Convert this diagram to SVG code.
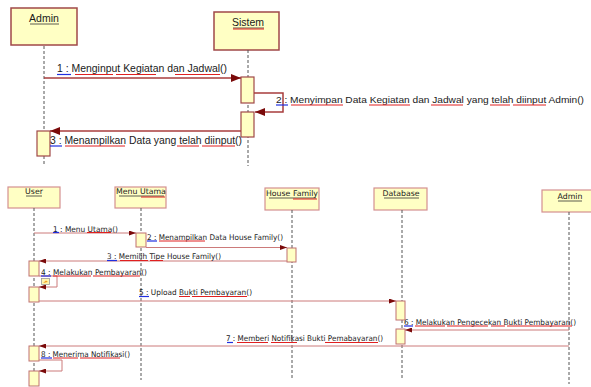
<svg xmlns="http://www.w3.org/2000/svg" width="591" height="387" viewBox="0 0 591 387">
<style>
.hd{fill:#FFFFC4;stroke:#A04848;stroke-width:1.5}
.hd2{fill:#FFFFC4;stroke:#D49090;stroke-width:1.2}
.act{fill:#FFFFC4;stroke:#A04848;stroke-width:1.2}
.act2{fill:#FFFFC4;stroke:#C07070;stroke-width:1}
.life{stroke:#555;stroke-width:1;stroke-dasharray:3 2;fill:none}
.m1{stroke:#A83C3C;stroke-width:1.5;fill:none}
.m2{stroke:#CC7A7A;stroke-width:1;fill:none}
.t{font-family:"DejaVu Sans","Liberation Sans",sans-serif;fill:#1a1a1a}
.tl{font-family:"Liberation Sans","DejaVu Sans",sans-serif;font-size:10.5px}
.ts{font-size:7.8px}
.ul{stroke:#333;stroke-width:0.8}
.ur{stroke:#E02020;stroke-width:1}
.ub{stroke:#2030E0;stroke-width:1.2}
</style>
<defs>
<marker id="ah1" markerWidth="10" markerHeight="8" refX="10" refY="4" orient="auto" markerUnits="userSpaceOnUse"><path d="M0,0 L10,4 L0,8 z" fill="#7A0A0A"/></marker>
<marker id="ah2" markerWidth="7" markerHeight="5" refX="7" refY="2.5" orient="auto" markerUnits="userSpaceOnUse"><path d="M0,0 L7,2.5 L0,5 z" fill="#7A0A0A"/></marker>
</defs>

<!-- TOP DIAGRAM -->
<g id="top-admin">
<rect class="hd" x="11" y="8" width="66" height="37"/>
<text class="t tl" x="44" y="22" text-anchor="middle">Admin</text>
<line class="ul" x1="30" y1="24" x2="59" y2="24"/>
<line class="life" x1="44" y1="46" x2="44" y2="166"/>
<rect class="act" x="37" y="131" width="13" height="25"/>
</g>
<g id="top-sistem">
<rect class="hd" x="214" y="12" width="65" height="38"/>
<text class="t tl" x="248" y="26" text-anchor="middle">Sistem</text>
<line class="ul" x1="233" y1="28" x2="264" y2="28"/>
<line class="ur" x1="233" y1="29" x2="264" y2="29"/>
<line class="life" x1="248" y1="50" x2="248" y2="166"/>
<rect class="act" x="241" y="77" width="13" height="26"/>
<rect class="act" x="241" y="112" width="13" height="25"/>
</g>

<!-- BOTTOM DIAGRAM -->
<g id="user">
<rect class="hd2" x="8" y="187" width="52" height="21"/>
<text class="t ts" x="34" y="194" text-anchor="middle">User</text>
<line class="ul" x1="26" y1="196" x2="42" y2="196"/>
<line class="life" x1="34" y1="208" x2="34" y2="387"/>
<rect class="act2" x="29" y="261" width="10" height="15"/>
<rect class="act2" x="29" y="287" width="10" height="15"/>
<rect class="act2" x="29" y="346" width="10" height="15"/>
<rect class="act2" x="29" y="371" width="10" height="15"/>
<rect x="41.5" y="278.5" width="8" height="6" fill="#FFF6B0" stroke="#999" stroke-width="0.8"/>
<path d="M43,283 L46,280.5 L48,282 z" fill="#F0A020"/>
</g>
<g id="menu-utama">
<rect class="hd2" x="115" y="187" width="51" height="21"/>
<text class="t ts" x="141" y="194" text-anchor="middle">Menu Utama</text>
<line class="ul" x1="119" y1="196" x2="164" y2="196"/>
<line class="ur" x1="141" y1="197" x2="165" y2="197"/>
<line class="life" x1="141" y1="208" x2="141" y2="380"/>
<rect class="act2" x="136" y="233" width="10" height="14"/>
</g>
<g id="house-family">
<rect class="hd2" x="265" y="188" width="54" height="22"/>
<text class="t ts" x="292" y="196" text-anchor="middle">House Family</text>
<line class="ul" x1="269" y1="198" x2="316" y2="198"/>
<line class="ur" x1="293" y1="199" x2="317" y2="199"/>
<line class="life" x1="292" y1="210" x2="292" y2="380"/>
<rect class="act2" x="287" y="248" width="9" height="14"/>
</g>
<g id="database">
<rect class="hd2" x="374" y="188" width="53" height="22"/>
<text class="t ts" x="401" y="196" text-anchor="middle">Database</text>
<line class="ul" x1="384" y1="198" x2="419" y2="198"/>
<line class="life" x1="402" y1="210" x2="402" y2="380"/>
<rect class="act2" x="396" y="301" width="9" height="19"/>
<rect class="act2" x="396" y="329" width="9" height="15"/>
</g>
<g id="admin">
<rect class="hd2" x="542" y="190" width="52" height="22"/>
<text class="t ts" x="570" y="199" text-anchor="middle">Admin</text>
<line class="ul" x1="558" y1="201" x2="582" y2="201"/>
<line class="life" x1="569" y1="212" x2="569" y2="384"/>
</g>

<g id="connectors">
<line class="m1" x1="44" y1="78" x2="241" y2="78" marker-end="url(#ah1)"/>
<polyline class="m1" points="254,93 283,93 283,112 255,112" marker-end="url(#ah1)"/>
<line class="m1" x1="241" y1="131" x2="50" y2="131" marker-end="url(#ah1)"/>

<line class="m2" x1="34" y1="233" x2="136" y2="233" marker-end="url(#ah2)"/>
<line class="m2" x1="146" y1="247.5" x2="287" y2="247.5" marker-end="url(#ah2)"/>
<line class="m2" x1="287" y1="261" x2="39" y2="261" marker-end="url(#ah2)"/>
<polyline class="m2" points="39,276 57,276 57,287 39,287" marker-end="url(#ah2)"/>
<line class="m2" x1="39" y1="301" x2="396" y2="301" marker-end="url(#ah2)"/>
<line class="m2" x1="569" y1="330" x2="405" y2="330" marker-end="url(#ah2)"/>
<line class="m2" x1="569" y1="346" x2="39" y2="346" marker-end="url(#ah2)"/>
<polyline class="m2" points="39,360 62,360 62,371 39,371" marker-end="url(#ah2)"/>
</g>

<g id="labels">
<text class="t tl" x="57" y="72" textLength="170" lengthAdjust="spacingAndGlyphs">1 : Menginput Kegiatan dan Jadwal()</text>
<text class="t tl" x="276" y="103" font-size="9.6" style="font-size:9.6px" textLength="308" lengthAdjust="spacingAndGlyphs">2 : Menyimpan Data Kegiatan dan Jadwal yang telah diinput Admin()</text>
<text class="t tl" x="50" y="144" textLength="192" lengthAdjust="spacingAndGlyphs">3 : Menampilkan Data yang telah diinput()</text>

<text class="t ts" x="53" y="231.5" textLength="65" lengthAdjust="spacingAndGlyphs">1 : Menu Utama()</text>
<text class="t ts" x="147" y="239.5" textLength="136" lengthAdjust="spacingAndGlyphs">2 : Menampilkan Data House Family()</text>
<text class="t ts" x="107" y="259" textLength="114" lengthAdjust="spacingAndGlyphs">3 : Memilih Tipe House Family()</text>
<text class="t ts" x="41" y="274.5" textLength="106" lengthAdjust="spacingAndGlyphs">4 : Melakukan Pembayaran()</text>
<text class="t ts" x="139" y="295" textLength="113" lengthAdjust="spacingAndGlyphs">5 : Upload Bukti Pembayaran()</text>
<text class="t ts" x="404" y="324.5" textLength="172" lengthAdjust="spacingAndGlyphs">6 : Melakukan Pengecekan Bukti Pembayaran()</text>
<text class="t ts" x="226" y="341" textLength="157" lengthAdjust="spacingAndGlyphs">7 : Memberi Notifikasi Bukti Pemabayaran()</text>
<text class="t ts" x="41" y="356.5" textLength="89" lengthAdjust="spacingAndGlyphs">8 : Menerima Notifikasi()</text>
</g>

<g id="underlines">
<line class="ub" x1="57" y1="74.5" x2="71" y2="74.5"/>
<line class="ur" x1="75" y1="74.5" x2="113" y2="74.5"/>
<line class="ur" x1="116" y1="74.5" x2="156" y2="74.5"/>
<line class="ur" x1="175" y1="74.5" x2="220" y2="74.5"/>

<line class="ub" x1="276" y1="105" x2="288" y2="105"/>
<line class="ur" x1="291" y1="105" x2="343" y2="105"/>
<line class="ur" x1="369" y1="105" x2="410" y2="105"/>
<line class="ur" x1="431" y1="105" x2="463" y2="105"/>
<line class="ur" x1="490" y1="105" x2="510" y2="105"/>
<line class="ur" x1="513" y1="105" x2="546" y2="105"/>

<line class="ub" x1="50" y1="146" x2="62" y2="146"/>
<line class="ur" x1="65" y1="146" x2="125" y2="146"/>
<line class="ur" x1="177" y1="146" x2="199" y2="146"/>
<line class="ur" x1="202" y1="146" x2="235" y2="146"/>

<line class="ub" x1="53" y1="232.5" x2="59" y2="232.5"/>
<line class="ur" x1="87" y1="232.5" x2="111" y2="232.5"/>

<line class="ub" x1="147" y1="241" x2="157" y2="241"/>
<line class="ur" x1="159" y1="241" x2="205" y2="241"/>

<line class="ub" x1="107" y1="260.5" x2="117" y2="260.5"/>
<line class="ur" x1="120" y1="260.5" x2="148" y2="260.5"/>
<line class="ur" x1="150" y1="260.5" x2="163" y2="260.5"/>

<line class="ub" x1="41" y1="276" x2="51" y2="276"/>
<line class="ur" x1="53" y1="276" x2="91" y2="276"/>
<line class="ur" x1="93" y1="276" x2="140" y2="276"/>

<line class="ub" x1="139" y1="296.5" x2="149" y2="296.5"/>
<line class="ur" x1="179" y1="296.5" x2="190" y2="296.5"/>
<line class="ur" x1="192" y1="296.5" x2="247" y2="296.5"/>

<line class="ub" x1="404" y1="326" x2="413" y2="326"/>
<line class="ur" x1="415" y1="326" x2="445" y2="326"/>
<line class="ur" x1="447" y1="326" x2="488" y2="326"/>
<line class="ur" x1="491" y1="326" x2="505" y2="326"/>
<line class="ur" x1="507" y1="326" x2="572" y2="326"/>

<line class="ub" x1="227" y1="342.5" x2="233" y2="342.5"/>
<line class="ur" x1="237" y1="342.5" x2="268" y2="342.5"/>
<line class="ur" x1="271" y1="342.5" x2="297" y2="342.5"/>
<line class="ur" x1="325" y1="342.5" x2="378" y2="342.5"/>

<line class="ub" x1="41" y1="358" x2="52" y2="358"/>
<line class="ur" x1="53" y1="358" x2="78" y2="358"/>
<line class="ur" x1="80" y1="358" x2="120" y2="358"/>
</g>
</svg>
